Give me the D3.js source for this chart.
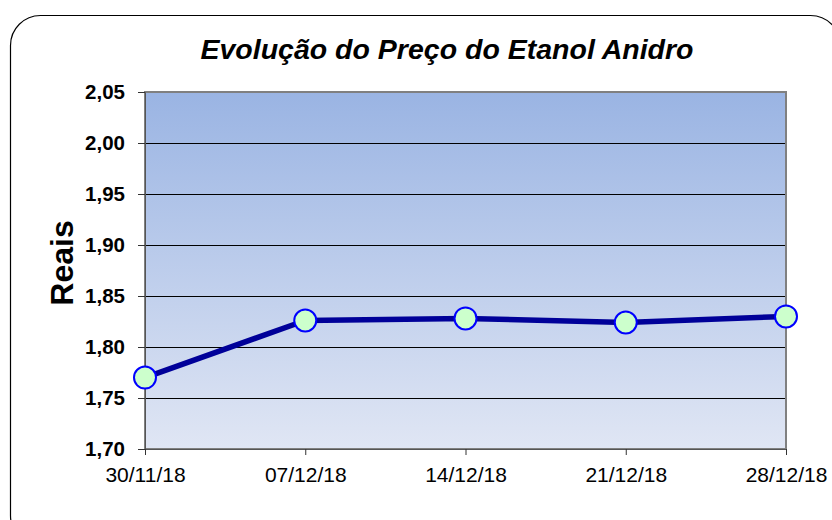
<!DOCTYPE html>
<html>
<head>
<meta charset="utf-8">
<script src="https://cdn.jsdelivr.net/npm/d3@7"></script>
<style>
  body { margin: 0; background: #fff; }
  svg { display: block; font-family: "Liberation Sans", Arial, sans-serif; }
</style>
</head>
<body>
<svg id="chart" width="832" height="520"></svg>
<script>
const dates = ['30/11/18', '07/12/18', '14/12/18', '21/12/18', '28/12/18'];
const prices = [1.770, 1.826, 1.828, 1.824, 1.830];
const yTicks = [1.70, 1.75, 1.80, 1.85, 1.90, 1.95, 2.00, 2.05];

const width = 832;
const height = 520;
const margin = { top: 92, right: 46, bottom: 71, left: 145 };
const innerW = width - margin.left - margin.right;
const innerH = height - margin.top - margin.bottom;

const svg = d3.select('#chart');

// outer rounded frame
svg.append('rect')
  .attr('x', 10.5).attr('y', 15.5)
  .attr('width', 830).attr('height', 530)
  .attr('rx', 30).attr('ry', 30)
  .attr('fill', '#fff')
  .attr('stroke', '#000')
  .attr('stroke-width', 1.2);

const defs = svg.append('defs');
const grad = defs.append('linearGradient')
  .attr('id', 'bg')
  .attr('x1', 0).attr('y1', 0).attr('x2', 0).attr('y2', 1);
grad.append('stop').attr('offset', '0%').attr('stop-color', '#9ab4e3');
grad.append('stop').attr('offset', '100%').attr('stop-color', '#e0e6f4');

const g = svg.append('g')
  .attr('transform', 'translate(' + margin.left + ',' + margin.top + ')');

const x = d3.scalePoint()
  .domain(dates)
  .range([0, innerW]);

const y = d3.scaleLinear()
  .domain([1.70, 2.05])
  .range([innerH, 0]);

// plot background
g.append('rect')
  .attr('width', innerW)
  .attr('height', innerH)
  .attr('fill', 'url(#bg)');

// gridlines
g.append('g')
  .selectAll('line')
  .data(yTicks.slice(1, -1))
  .enter()
  .append('line')
  .attr('x1', 0).attr('x2', innerW)
  .attr('y1', d => Math.round(y(d)) + 0.5)
  .attr('y2', d => Math.round(y(d)) + 0.5)
  .attr('stroke', '#000')
  .attr('stroke-width', 1);

// plot frame
g.append('rect')
  .attr('width', innerW)
  .attr('height', innerH)
  .attr('fill', 'none')
  .attr('stroke', '#808080')
  .attr('stroke-width', 2);

// Y axis
const fmt = d => d.toFixed(2).replace('.', ',');
const yAxis = g.append('g')
  .call(d3.axisLeft(y).tickValues(yTicks).tickFormat(fmt).tickSize(7).tickPadding(13));
yAxis.select('.domain').attr('stroke', '#555');
yAxis.selectAll('.tick line').attr('stroke', '#333');
yAxis.selectAll('text')
  .attr('font-size', 20.5)
  .attr('font-weight', 'bold')
  .attr('fill', '#000');

// X axis
const xAxis = g.append('g')
  .attr('transform', 'translate(0,' + innerH + ')')
  .call(d3.axisBottom(x).tickSize(6).tickPadding(12));
xAxis.select('.domain').attr('stroke', '#555');
xAxis.selectAll('.tick line').attr('stroke', '#333');
xAxis.selectAll('text')
  .attr('font-size', 21)
  .attr('fill', '#000');

// line
const line = d3.line()
  .x((d, i) => x(dates[i]))
  .y(d => y(d));
g.append('path')
  .datum(prices)
  .attr('d', line)
  .attr('fill', 'none')
  .attr('stroke', '#000099')
  .attr('stroke-width', 5.5)
  .attr('stroke-linejoin', 'round');

// markers
g.selectAll('circle')
  .data(prices)
  .enter()
  .append('circle')
  .attr('cx', (d, i) => x(dates[i]))
  .attr('cy', d => y(d))
  .attr('r', 11)
  .attr('fill', '#ccffcc')
  .attr('stroke', '#0000ff')
  .attr('stroke-width', 2);

// title
svg.append('text')
  .attr('x', 447).attr('y', 59)
  .attr('text-anchor', 'middle')
  .attr('font-size', 28.5)
  .attr('font-weight', 'bold')
  .attr('font-style', 'italic')
  .text('Evolução do Preço do Etanol Anidro');

// y label
svg.append('text')
  .attr('transform', 'translate(73,263) rotate(-90)')
  .attr('text-anchor', 'middle')
  .attr('font-size', 32)
  .attr('font-weight', 'bold')
  .text('Reais');
</script>
</body>
</html>
